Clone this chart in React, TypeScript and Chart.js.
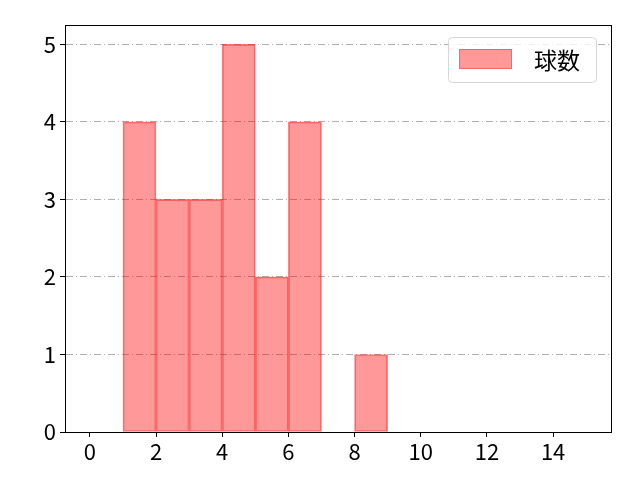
import React, { useEffect, useRef } from 'react';
import { Chart, registerables } from 'chart.js';

Chart.register(...registerables);

// bin centres (width 1) and counts
const binCenters = [0.5, 1.5, 2.5, 3.5, 4.5, 5.5, 6.5, 7.5, 8.5, 9.5, 10.5, 11.5, 12.5, 13.5, 14.5];
const counts = [0, 4, 3, 3, 5, 2, 4, 0, 1, 0, 0, 0, 0, 0, 0];
const seriesLabel = '球数';
const xTicks = [0, 2, 4, 6, 8, 10, 12, 14];
const yTicks = [0, 1, 2, 3, 4, 5];

const FONT = "'Noto Sans CJK JP', 'DejaVu Sans', sans-serif";

const framePlugin = {
  id: 'frame',
  afterDraw(chart: any) {
    const { ctx, chartArea } = chart;
    ctx.save();
    ctx.strokeStyle = '#000';
    ctx.lineWidth = 1;
    ctx.setLineDash([]);
    ctx.strokeRect(
      Math.round(chartArea.left) + 0.5,
      Math.round(chartArea.top) + 0.5,
      Math.round(chartArea.right - chartArea.left),
      Math.round(chartArea.bottom - chartArea.top)
    );

    // legend box, upper right
    const w = 148;
    const h = 45;
    const x = chartArea.right - 15 - w;
    const y = chartArea.top + 12;
    ctx.beginPath();
    ctx.roundRect(x + 0.5, y + 0.5, w, h, 4);
    ctx.fillStyle = 'rgba(255,255,255,0.8)';
    ctx.fill();
    ctx.strokeStyle = '#d6d6d6';
    ctx.stroke();
    ctx.fillStyle = 'rgba(255,0,0,0.4)';
    ctx.fillRect(x + 11, y + 12, 53, 20);
    ctx.strokeStyle = 'rgba(255,0,0,0.35)';
    ctx.strokeRect(x + 11.5, y + 12.5, 52, 19);
    ctx.fillStyle = '#000';
    ctx.font = `23px ${FONT}`;
    ctx.textBaseline = 'middle';
    ctx.textAlign = 'left';
    ctx.fillText(chart.data.datasets[0].label, x + 86, y + 23);
    ctx.restore();
  },
};

export default function App() {
  const canvasRef = useRef<HTMLCanvasElement>(null);
  const chartRef = useRef<Chart | null>(null);

  useEffect(() => {
    document.body.style.margin = '0';
    if (!canvasRef.current) return;
    if (chartRef.current) chartRef.current.destroy();

    chartRef.current = new Chart(canvasRef.current, {
      type: 'bar',
      data: {
        datasets: [{
          label: seriesLabel,
          data: binCenters.map((x, i) => ({ x, y: counts[i] })),
          backgroundColor: 'rgba(255,0,0,0.4)',
          borderColor: 'rgba(255,0,0,0.5)',
          borderWidth: 1,
          borderSkipped: false,
          barPercentage: 1,
          categoryPercentage: 1,
        }],
      },
      options: {
        animation: false,
        responsive: false,
        devicePixelRatio: 1,
        layout: { padding: { left: 0, top: 25, right: 29, bottom: 0 } },
        plugins: {
          legend: { display: false },
          tooltip: { enabled: false },
        },
        scales: {
          x: {
            type: 'linear',
            min: -0.75,
            max: 15.75,
            offset: false,
            afterBuildTicks: (scale: any) => {
              scale.ticks = xTicks.map((v) => ({ value: v }));
            },
            afterFit: (scale: any) => { scale.height = 48; },
            grid: {
              offset: false,
              drawOnChartArea: false,
              drawTicks: true,
              tickLength: 5,
              tickColor: '#000',
            },
            border: { color: '#000' },
            ticks: {
              color: '#000',
              font: { family: FONT, size: 22 },
              padding: 1,
              maxRotation: 0,
            },
          },
          y: {
            min: 0,
            max: 5.25,
            afterBuildTicks: (scale: any) => {
              scale.ticks = yTicks.map((v) => ({ value: v }));
            },
            afterFit: (scale: any) => { scale.width = 65; },
            grid: {
              color: '#b0b0b0',
              drawTicks: true,
              tickLength: 5,
              tickColor: '#000',
              tickBorderDash: [],
            },
            border: { color: '#000', dash: [7, 3, 1, 3] },
            ticks: {
              color: '#000',
              font: { family: FONT, size: 22 },
              padding: 4,
            },
          },
        },
      },
      plugins: [framePlugin],
    });

    return () => {
      if (chartRef.current) {
        chartRef.current.destroy();
        chartRef.current = null;
      }
    };
  }, []);

  return <canvas ref={canvasRef} width={640} height={480} />;
}
